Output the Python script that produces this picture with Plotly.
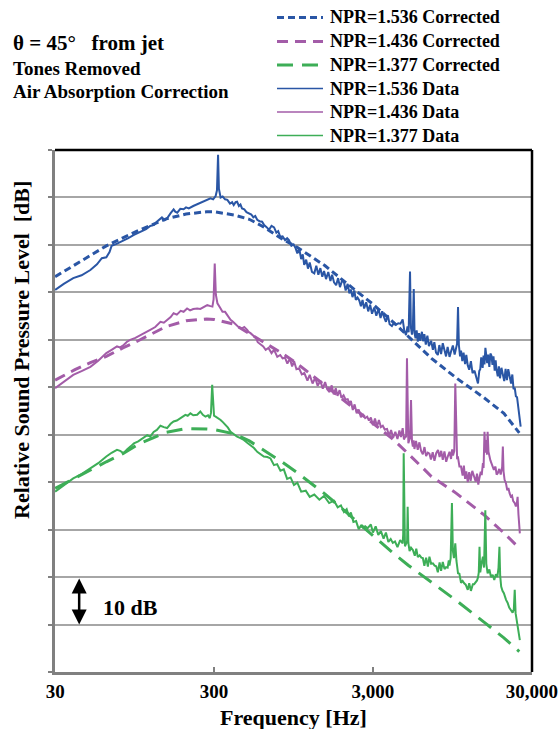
import numpy as np
import plotly.graph_objects as go

FONT = "Liberation Serif"
BLUE = "#2A56A5"
MAGENTA = "#A35CA8"
GREEN = "#3DAE57"

# ---------------- data ----------------
CORR_FREQ = [30, 40, 50, 63, 80, 100, 150, 200, 270, 300, 400, 500, 600, 800, 1000,
             1500, 2000, 3000, 4000, 5000, 7000, 10000, 15000, 20000, 25000]
BLUE_CORR_DB = [83.3, 85.8, 87.7, 89.8, 91.5, 93.0, 95.5, 96.5, 97.0, 97.0, 96.3, 95.4, 94.0, 91.3, 89.5,
                85.6, 82.2, 77.5, 73.8, 70.7, 66.1, 62.0, 57.8, 54.5, 50.4]
MAG_CORR_DB = [61.5, 63.7, 65.2, 66.5, 68.3, 69.8, 72.8, 74.0, 74.4, 74.3, 73.3, 71.3, 69.8, 67.2, 65.0,
               60.4, 57.1, 52.4, 49.1, 46.0, 41.2, 37.7, 33.1, 29.3, 26.1]
GRN_CORR_DB = [38.7, 40.9, 42.5, 44.3, 46.0, 48.0, 50.5, 51.3, 51.2, 51.1, 50.2, 48.7, 47.0, 44.3, 42.0,
               37.5, 33.9, 28.7, 25.1, 22.5, 19.0, 15.1, 10.5, 7.2, 4.3]

BLUE_DATA_FREQ = [30, 34, 39, 44, 50, 55, 59, 63, 66, 68, 73, 79, 86, 94, 104, 112, 119, 126, 131, 136,
                  141, 147, 152, 160, 167, 171, 176, 184, 193, 200, 208, 222, 235, 246, 258, 270, 285, 296,
                  307, 313, 318, 322, 330, 340, 352, 364, 378, 390, 399, 410, 419, 430, 440, 450, 465, 480,
                  497, 515, 530, 545, 561, 580, 602, 620, 640, 665, 690, 716, 740, 760, 783, 810, 840, 865,
                  888, 920, 950, 975, 1003, 1030, 1060, 1085, 1108, 1140, 1170, 1200, 1240, 1282, 1320,
                  1360, 1400, 1440, 1477, 1520, 1570, 1620, 1660, 1707, 1760, 1810, 1860, 1920, 1971, 2020,
                  2080, 2130, 2178, 2230, 2290, 2340, 2400, 2460, 2520, 2580, 2640, 2720, 2800, 2880, 2960,
                  3054, 3150, 3250, 3350, 3430, 3528, 3620, 3720, 3820, 3950, 4077, 4200, 4330, 4470, 4614,
                  4720, 4842, 4950, 5030, 5133, 5200, 5280, 5350, 5418, 5480, 5560, 5650, 5746, 5850, 5950,
                  6100, 6200, 6318, 6450, 6600, 6750, 6970, 7150, 7300, 7480, 7680, 7850, 8050, 8250, 8460,
                  8650, 8850, 9100, 9330, 9550, 9800, 10000, 10150, 10290, 10420, 10600, 10750, 10950,
                  11150, 11400, 11600, 11850, 12100, 12400, 12700, 13070, 13400, 13740, 14000, 14200,
                  14400, 14700, 14900, 15100, 15300, 15500, 15700, 15900, 16200, 16450, 16690, 16950,
                  17200, 17500, 17750, 17960, 18300, 18600, 18900, 19300, 19700, 20100, 20500, 20900,
                  21300, 21720, 22200, 22600, 23000, 23400, 23800, 24200, 24600, 24800, 25100, 25500]
BLUE_DATA_DB = [80.5, 81.8, 83.0, 83.6, 84.7, 85.9, 87.2, 87.4, 88.5, 89.8, 90.2, 90.7, 91.4, 92.1, 92.8,
                93.3, 94.0, 94.2, 94.9, 95.3, 95.8, 95.2, 95.6, 96.7, 97.5, 97.0, 96.8, 97.6, 97.5, 97.9,
                97.7, 98.2, 98.6, 98.9, 99.1, 99.4, 99.8, 99.6, 100.3, 101.5, 109.0, 101.8, 100.0, 100.2,
                99.6, 99.5, 98.7, 99.0, 98.4, 99.0, 99.1, 98.2, 98.5, 97.7, 97.5, 96.9, 96.7, 96.4, 95.8,
                96.1, 95.3, 95.0, 94.9, 94.2, 93.8, 93.2, 94.0, 93.7, 92.6, 92.9, 91.7, 91.8, 91.0, 91.4,
                91.0, 89.8, 90.1, 89.4, 88.2, 89.3, 87.0, 88.0, 85.8, 86.9, 85.0, 86.3, 84.3, 84.0, 85.6,
                83.7, 85.1, 83.3, 84.5, 82.8, 84.3, 82.4, 83.7, 82.1, 81.5, 83.0, 81.1, 82.5, 82.1, 80.4,
                81.8, 79.8, 80.6, 79.0, 80.4, 78.4, 78.9, 78.3, 77.1, 78.4, 76.6, 77.9, 76.0, 77.4, 75.5,
                76.8, 75.1, 76.5, 74.6, 76.0, 74.7, 73.8, 75.2, 73.3, 72.9, 73.6, 73.2, 73.5, 73.4, 74.3,
                72.0, 71.0, 72.8, 71.6, 84.4, 72.6, 71.1, 72.6, 80.7, 71.4, 70.3, 72.0, 69.6, 71.4, 69.8,
                71.7, 69.7, 71.2, 69.0, 70.9, 68.7, 69.8, 67.9, 69.5, 67.3, 66.8, 68.9, 67.0, 69.3, 67.7,
                66.5, 68.5, 66.4, 67.7, 68.8, 66.9, 68.8, 69.2, 76.9, 68.9, 66.5, 67.7, 65.5, 67.3, 64.9,
                66.8, 64.6, 63.7, 65.5, 63.0, 63.5, 61.8, 60.8, 63.4, 63.8, 66.3, 64.1, 66.7, 64.8, 68.3,
                67.0, 65.1, 66.9, 64.3, 67.1, 66.7, 64.7, 66.5, 63.5, 65.7, 63.8, 62.3, 64.4, 61.9, 64.1,
                62.5, 61.3, 63.9, 61.5, 63.8, 62.5, 60.8, 62.7, 59.6, 59.9, 58.1, 57.9, 56.1, 55.9, 53.9,
                51.7]

MAG_DATA_FREQ = [30, 34, 39, 44, 50, 56, 63, 68, 73.5, 77, 81, 85, 89, 96, 104, 111, 119, 128, 138, 145,
                 152, 160, 167, 175, 185, 193, 203, 212, 222, 235, 246, 258, 272, 285, 293, 298, 303, 308,
                 315, 327, 339, 352, 364, 372, 381, 395, 410, 430, 450, 465, 485, 497, 509, 522, 535, 550,
                 565, 591, 612, 634, 660, 690, 716, 750, 783, 810, 840, 868, 900, 930, 957, 990, 1029,
                 1070, 1110, 1161, 1200, 1250, 1300, 1347, 1400, 1450, 1500, 1546, 1600, 1650, 1700, 1750,
                 1795, 1850, 1900, 1960, 2020, 2080, 2130, 2178, 2240, 2300, 2370, 2440, 2520, 2600, 2680,
                 2760, 2830, 2910, 3000, 3090, 3180, 3270, 3366, 3460, 3560, 3680, 3790, 3900, 4020, 4150,
                 4280, 4400, 4500, 4614, 4700, 4780, 4850, 4911, 4970, 5010, 5080, 5130, 5208, 5280, 5350,
                 5410, 5472, 5600, 5740, 5880, 6025, 6180, 6330, 6480, 6642, 6800, 6950, 7130, 7314, 7500,
                 7700, 7880, 8066, 8250, 8450, 8670, 8892, 9100, 9300, 9450, 9567, 9750, 9890, 10040,
                 10150, 10290, 10500, 10750, 11000, 11200, 11400, 11600, 11850, 12100, 12350, 12650,
                 13070, 13300, 13550, 13800, 14050, 14300, 14500, 14760, 14900, 15100, 15300, 15500,
                 15650, 15800, 16000, 16200, 16450, 16690, 16950, 17300, 17700, 18000, 18300, 18700,
                 19100, 19500, 19700, 19900, 20200, 20600, 21000, 21350, 21720, 22100, 22500, 22900,
                 23400, 23800, 24100, 24400, 24700, 25000, 25200]
MAG_DATA_DB = [59.8, 61.2, 62.6, 63.4, 64.3, 65.6, 67.2, 67.9, 68.6, 68.4, 68.9, 69.6, 70.0, 70.4, 71.0,
               71.4, 72.1, 72.7, 73.8, 73.6, 74.2, 74.8, 75.6, 75.3, 76.1, 75.9, 76.6, 76.2, 76.5, 76.6,
               76.5, 76.9, 77.3, 77.1, 77.0, 78.5, 86.1, 79.5, 77.7, 76.8, 75.9, 75.9, 75.2, 74.8, 74.2,
               73.8, 73.3, 72.6, 72.4, 72.7, 72.1, 71.6, 71.4, 71.0, 70.7, 70.4, 69.5, 68.9, 68.6, 67.9,
               68.3, 67.2, 67.9, 66.4, 66.8, 66.1, 66.2, 65.0, 66.0, 64.4, 65.5, 63.8, 64.0, 62.7, 63.0,
               61.4, 62.6, 60.8, 62.0, 60.3, 61.4, 59.7, 61.1, 59.6, 59.0, 60.4, 58.5, 59.8, 58.2, 59.4,
               57.8, 58.3, 57.4, 57.5, 56.6, 57.1, 55.2, 56.4, 54.5, 55.3, 53.7, 54.2, 53.5, 53.8, 53.0,
               53.6, 52.0, 53.4, 51.7, 53.1, 51.6, 51.9, 51.1, 51.2, 49.8, 51.0, 49.4, 50.6, 49.1, 50.9,
               49.5, 51.4, 49.0, 49.5, 49.6, 66.1, 49.4, 48.2, 48.9, 49.2, 57.3, 48.6, 47.5, 48.8, 47.0,
               48.7, 46.8, 48.4, 46.6, 45.9, 47.4, 45.5, 46.2, 46.0, 44.8, 46.3, 44.5, 46.1, 46.8, 45.3,
               46.6, 44.7, 46.5, 44.3, 45.5, 46.4, 44.9, 46.9, 45.6, 46.6, 60.8, 47.0, 45.1, 45.2, 43.3,
               43.3, 41.4, 43.5, 40.7, 42.3, 40.0, 42.1, 40.3, 42.4, 41.0, 40.1, 41.8, 39.5, 41.0, 42.2,
               41.5, 44.0, 43.0, 50.6, 46.2, 48.9, 45.8, 50.6, 46.4, 45.2, 44.6, 44.0, 43.3, 42.6, 43.3,
               41.6, 41.9, 42.8, 41.6, 43.2, 47.5, 42.3, 40.5, 39.8, 38.3, 38.8, 37.7, 37.0, 37.2, 36.0,
               35.6, 34.9, 35.4, 36.9, 33.2, 31.0, 29.2]

GRN_DATA_FREQ = [30, 34, 39, 44, 50, 56, 63, 68, 73.5, 77, 81, 85, 90, 94, 100, 107, 114, 119, 125, 131,
                 138, 145, 152, 160, 167, 175, 185, 192, 198, 205, 213, 222, 235, 246, 255, 265, 275, 282,
                 287, 292, 296, 300, 307, 318, 330, 342, 354, 367, 381, 400, 419, 440, 462, 485, 509, 535,
                 561, 590, 617, 650, 680, 715, 748, 785, 824, 865, 909, 955, 1003, 1060, 1133, 1200, 1282,
                 1380, 1477, 1590, 1707, 1800, 1886, 1970, 2050, 2120, 2178, 2260, 2350, 2440, 2520, 2600,
                 2680, 2780, 2910, 3000, 3120, 3240, 3366, 3500, 3620, 3750, 3880, 4000, 4130, 4280, 4450,
                 4614, 4650, 4683, 4720, 4770, 4860, 4920, 4960, 5010, 5100, 5208, 5350, 5500, 5620, 5746,
                 5900, 6050, 6180, 6318, 6480, 6650, 6800, 6970, 7150, 7330, 7500, 7680, 7880, 8050, 8250,
                 8460, 8650, 8850, 9000, 9090, 9250, 9420, 9550, 9700, 9890, 10050, 10290, 10500, 10750,
                 11000, 11250, 11500, 11850, 12100, 12400, 12760, 13000, 13300, 13550, 13740, 13900,
                 14050, 14200, 14450, 14760, 15000, 15280, 15500, 15800, 16200, 16600, 17000, 17400,
                 17800, 18200, 18500, 18750, 18950, 19230, 19600, 20000, 20640, 21100, 21600, 22230,
                 22700, 23100, 23400, 23700, 24000, 24400, 24800, 25200]
GRN_DATA_DB = [38.0, 39.3, 40.8, 41.7, 42.9, 44.0, 45.4, 46.2, 46.8, 46.6, 46.1, 46.9, 47.6, 48.2, 48.6,
               49.3, 49.9, 49.6, 50.6, 51.0, 51.9, 51.6, 51.4, 52.3, 52.8, 53.0, 53.5, 54.0, 54.2, 54.0,
               54.5, 54.1, 54.2, 54.9, 54.2, 53.8, 54.1, 53.5, 54.6, 60.5, 55.0, 54.0, 53.8, 53.5, 53.1,
               52.6, 52.1, 51.5, 50.6, 50.1, 49.6, 49.3, 48.9, 48.3, 47.8, 47.2, 46.4, 45.8, 45.4, 45.3,
               45.0, 43.6, 43.8, 42.4, 42.7, 40.7, 41.0, 39.4, 39.9, 38.0, 38.2, 36.9, 37.4, 36.3, 37.1,
               35.6, 36.1, 34.7, 35.1, 33.7, 34.3, 32.8, 33.6, 31.6, 31.8, 30.1, 30.8, 30.4, 30.7, 30.3,
               31.1, 29.4, 30.7, 28.9, 29.7, 28.1, 29.4, 27.4, 28.0, 27.2, 27.5, 26.3, 27.8, 27.1, 29.0,
               46.1, 28.0, 26.5, 27.1, 27.5, 34.8, 27.2, 25.5, 26.2, 25.7, 24.5, 26.0, 24.2, 24.6, 24.1,
               24.0, 22.4, 24.1, 22.2, 24.3, 22.8, 22.9, 22.4, 22.3, 21.0, 23.1, 21.3, 23.2, 21.7, 22.1,
               22.0, 23.5, 22.4, 24.0, 35.6, 25.5, 24.0, 27.1, 23.5, 20.8, 20.7, 18.8, 19.2, 18.7, 18.4,
               17.3, 18.7, 17.1, 18.5, 18.5, 19.0, 19.3, 19.9, 21.0, 26.4, 21.0, 22.8, 24.3, 22.0, 34.1,
               22.8, 20.8, 21.6, 20.0, 20.5, 19.4, 20.6, 20.0, 22.0, 26.4, 20.3, 18.0, 17.1, 16.6, 15.2,
               14.6, 13.6, 13.1, 12.5, 13.2, 17.3, 12.4, 11.0, 10.2, 8.3, 6.7]

X_TICK_VALS = [30, 300, 3000, 30000]
X_TICK_TEXT = ["30", "300", "3,000", "30,000"]
SERIES_NAMES = ["NPR=1.536 Corrected", "NPR=1.436 Corrected", "NPR=1.377 Corrected",
                "NPR=1.536 Data", "NPR=1.436 Data", "NPR=1.377 Data"]

# ---------------- layout geometry (pixels) ----------------
W, H = 558, 729
L, R, T, B = 55, 26, 150, 57
PW, PH = W - L - R, H - T - B


def px(x):
    return (x - L) / PW


def py(y):
    return (H - B - y) / PH


DASHES = ["7px,4px", "11px,7px", "16px,9px"]
COLORS = [BLUE, MAGENTA, GREEN]

fig = go.Figure()
for name, db, col, dsh in zip(SERIES_NAMES[:3], [BLUE_CORR_DB, MAG_CORR_DB, GRN_CORR_DB], COLORS, DASHES):
    fig.add_trace(go.Scatter(x=CORR_FREQ, y=db, mode="lines", name=name,
                             line=dict(color=col, width=3, dash=dsh), showlegend=False))
for name, f, db, col in zip(SERIES_NAMES[3:],
                            [BLUE_DATA_FREQ, MAG_DATA_FREQ, GRN_DATA_FREQ],
                            [BLUE_DATA_DB, MAG_DATA_DB, GRN_DATA_DB], COLORS):
    fig.add_trace(go.Scatter(x=f, y=db, mode="lines", name=name,
                             line=dict(color=col, width=2.0), showlegend=False))

shapes = []
annotations = []
# frame (top and right black)
shapes.append(dict(type="line", xref="paper", yref="paper", x0=0, x1=1, y0=1, y1=1,
                   line=dict(color="black", width=2.5)))
shapes.append(dict(type="line", xref="paper", yref="paper", x0=1, x1=1, y0=0, y1=1,
                   line=dict(color="black", width=2.5)))

# manual legend
leg_rows = [17.5, 41.5, 65, 88.5, 112, 135.5]
for i, (name, yy) in enumerate(zip(SERIES_NAMES, leg_rows)):
    col = COLORS[i % 3]
    if i < 3:
        ln = dict(color=col, width=3, dash=DASHES[i])
    else:
        ln = dict(color=col, width=1.4)
    shapes.append(dict(type="line", xref="paper", yref="paper", x0=px(277), x1=px(323),
                       y0=py(yy), y1=py(yy), line=ln))
    annotations.append(dict(xref="paper", yref="paper", x=px(328), y=py(yy), text="<b>%s</b>" % name,
                            showarrow=False, xanchor="left", yanchor="middle",
                            font=dict(family=FONT, size=18, color="black")))

# title texts
annotations.append(dict(xref="paper", yref="paper", x=px(11), y=py(43),
                        text="<b>θ = 45°   from jet</b>", showarrow=False, xanchor="left", yanchor="middle",
                        font=dict(family=FONT, size=21, color="black")))
annotations.append(dict(xref="paper", yref="paper", x=px(11), y=py(68),
                        text="<b>Tones Removed</b>", showarrow=False, xanchor="left", yanchor="middle",
                        font=dict(family=FONT, size=19, color="black")))
annotations.append(dict(xref="paper", yref="paper", x=px(11), y=py(92),
                        text="<b>Air Absorption Correction</b>", showarrow=False, xanchor="left",
                        yanchor="middle", font=dict(family=FONT, size=19, color="black")))
# axis titles
annotations.append(dict(xref="paper", yref="paper", x=px(293), y=py(717),
                        text="<b>Frequency [Hz]</b>", showarrow=False, xanchor="center", yanchor="middle",
                        font=dict(family=FONT, size=22, color="black")))
annotations.append(dict(xref="paper", yref="paper", x=px(21), y=py(350),
                        text="<b>Relative Sound Pressure Level  [dB]</b>", showarrow=False,
                        textangle=-90, xanchor="center", yanchor="middle",
                        font=dict(family=FONT, size=22, color="black")))
# 10 dB scale arrow
ARROW_F = 42.5
annotations.append(dict(xref="x", yref="y", axref="x", ayref="y",
                        x=np.log10(ARROW_F), y=10, ax=np.log10(ARROW_F), ay=20, text="",
                        showarrow=True, arrowhead=2, arrowside="end+start", arrowsize=1.2,
                        arrowwidth=2.5, arrowcolor="black", standoff=0, startstandoff=0))
annotations.append(dict(xref="paper", yref="paper", x=px(101), y=py(607), text="<b>10 dB</b>",
                        showarrow=False, xanchor="left", yanchor="middle",
                        font=dict(family=FONT, size=22, color="black")))

EPS = 0.0008
fig.update_layout(
    width=W, height=H,
    margin=dict(l=L, r=R, t=T, b=B, pad=0, autoexpand=False),
    paper_bgcolor="white", plot_bgcolor="white",
    showlegend=False,
    shapes=shapes, annotations=annotations,
    xaxis=dict(type="log", range=[np.log10(30) - EPS, np.log10(30000) + EPS],
               tickvals=X_TICK_VALS, ticktext=["<b>%s</b>" % t for t in X_TICK_TEXT],
               tickfont=dict(family=FONT, size=19, color="black"),
               ticks="inside", ticklen=5, tickcolor="#808080", tickwidth=1.5,
               showgrid=False, zeroline=False, automargin=False,
               showline=True, linecolor="#808080", linewidth=2.5),
    yaxis=dict(range=[0, 110], dtick=10, showticklabels=False,
               ticks="outside", ticklen=4, tickcolor="#808080", tickwidth=1.5,
               showgrid=True, gridcolor="#A6A6A6", gridwidth=1.5, zeroline=False, automargin=False,
               showline=True, linecolor="#808080", linewidth=2.5),
)

fig.write_html("out.html", config={"displayModeBar": False},
               post_script="document.body.style.margin='0';document.body.style.overflow='hidden';")
